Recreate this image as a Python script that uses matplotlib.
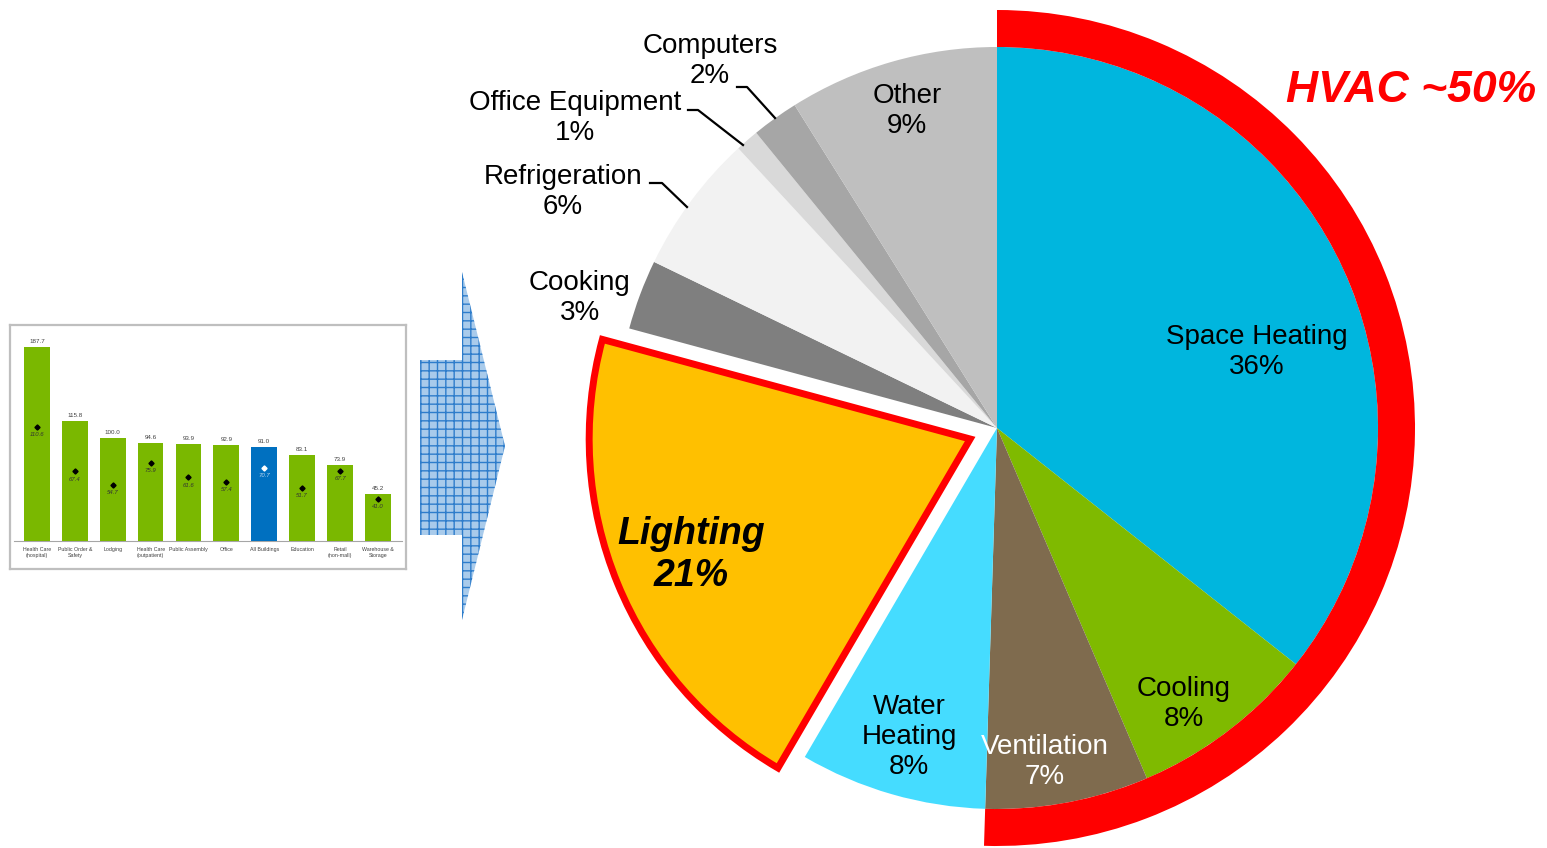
import numpy as np
import matplotlib.pyplot as plt
from matplotlib.patches import Wedge, Polygon

plt.rcParams['font.family'] = ['Liberation Sans', 'DejaVu Sans']

# ---------------- PIE DATA ----------------
end_uses = ["Space Heating", "Cooling", "Ventilation", "Water Heating", "Lighting",
            "Cooking", "Refrigeration", "Office Equipment", "Computers", "Other"]
shares = [36, 8, 7, 8, 21, 3, 6, 1, 2, 9]
pie_colors = ["#00B6DE", "#7FBA00", "#7F6B4E", "#45DCFF", "#FFC000",
              "#7F7F7F", "#F2F2F2", "#D9D9D9", "#A6A6A6", "#BFBFBF"]
hvac_uses = ["Space Heating", "Cooling", "Ventilation"]

# ---------------- INSET BAR DATA ----------------
building_types = ["Health Care\n(hospital)", "Public Order &\nSafety", "Lodging",
                  "Health Care\n(outpatient)", "Public Assembly", "Office",
                  "All Buildings", "Education", "Retail\n(non-mall)", "Warehouse &\nStorage"]
total_eui = [187.7, 115.8, 100.0, 94.6, 93.9, 92.9, 91.0, 83.1, 73.9, 45.2]
site_eui = [110.6, 67.4, 54.7, 75.9, 61.6, 57.4, 70.7, 51.7, 67.7, 41.0]
highlight = "All Buildings"

W, H = 1547, 848
fig = plt.figure(figsize=(W / 100, H / 100), dpi=100)
ax = fig.add_axes([0, 0, 1, 1])

# ---------------- PIE ----------------
cx, cy, R = 997, 428, 381
# explode is in data units here (pie radius is in pixels)
explode = [29 if u == "Lighting" else 0 for u in end_uses]
wedges, _ = ax.pie(shares, colors=pie_colors, startangle=-90, counterclock=True,
                   radius=R, center=(cx, cy), explode=explode,
                   wedgeprops=dict(linewidth=0))
light = wedges[end_uses.index("Lighting")]
light.set_edgecolor("#FF0000")
light.set_linewidth(5)
light.set_joinstyle("miter")
light.set_zorder(3)

# HVAC ring (y axis is inverted, so angles run the other way)
hvac_frac = sum(s for u, s in zip(end_uses, shares) if u in hvac_uses) / sum(shares)
ax.add_patch(Wedge((cx, cy), 418, -90, -90 + 360 * hvac_frac, width=37,
                   facecolor="#FF0000", edgecolor="none", zorder=2))

ax.text(1411, 91, "HVAC ~50%", color="#FF0000", fontsize=32, fontweight="bold",
        style="italic", ha="center", va="center")

# labels
label_pos = {
    "Space Heating": (1257, 352, "black"),
    "Cooling": (1184, 704, "black"),
    "Ventilation": (1045, 762, "white"),
    "Water Heating": (909, 737, "black"),
    "Cooking": (580, 298, "black"),
    "Refrigeration": (563, 192, "black"),
    "Office Equipment": (575, 118, "black"),
    "Computers": (710, 61, "black"),
    "Other": (907, 111, "black"),
}
for u, s in zip(end_uses, shares):
    if u == "Lighting":
        ax.text(691, 555, f"{u}\n{s}%", fontsize=27, fontweight="bold", style="italic",
                ha="center", va="center", linespacing=1.2, zorder=5)
        continue
    x, y, c = label_pos[u]
    name = "Water\nHeating" if u == "Water Heating" else u
    ax.text(x, y, f"{name}\n{s}%", fontsize=20, color=c, ha="center", va="center",
            linespacing=1.22, zorder=5)

# leader lines
leaders = [
    [(737, 87), (747, 87), (775, 118)],
    [(688, 110), (698, 110), (743, 145)],
    [(650, 183), (662, 183), (687, 207)],
]
for pts in leaders:
    xs, ys = zip(*pts)
    ax.plot(xs, ys, color="black", lw=1.6, zorder=5)

# ---------------- ARROW ----------------
arrow = Polygon([(420, 360), (462, 360), (462, 272), (505, 446), (462, 620),
                 (462, 535), (420, 535)], closed=True, facecolor="#A9CBEB",
                edgecolor="#2E7DCB", hatch="++", linewidth=0, zorder=1)
ax.add_patch(arrow)

ax.set_xlim(0, W)
ax.set_ylim(H, 0)
ax.set_aspect("equal")
ax.axis("off")

# ---------------- INSET BAR CHART ----------------
bx = fig.add_axes([10 / W, (H - 569) / H, 396 / W, 244 / H])
idx = np.arange(len(building_types))
bar_cols = ["#0070C0" if b == highlight else "#7AB800" for b in building_types]
bx.bar(idx, total_eui, width=0.68, color=bar_cols, zorder=2)
for i, (b, t, s) in enumerate(zip(building_types, total_eui, site_eui)):
    hl = b == highlight
    bx.text(i, t + 3, f"{t:.1f}", fontsize=4.5, color="#404040", ha="center", va="bottom")
    bx.plot(i, s, marker="D", ms=2.6, color="white" if hl else "black", zorder=3)
    bx.text(i, s - 5, f"{s:.1f}", fontsize=4.3, style="italic",
            color="#BDD7EE" if hl else "#333333", ha="center", va="top", zorder=3)
    bx.text(i, -6, b, fontsize=3.8, color="#404040", ha="center", va="top", linespacing=1.1)
bx.axhline(0, xmin=0.01, xmax=0.99, color="#A6A6A6", lw=0.8, zorder=1)
bx.set_xlim(-0.71, 9.74)
bx.set_ylim(-27, 209)
bx.set_xticks([])
bx.set_yticks([])
for sp in bx.spines.values():
    sp.set_color("#BFBFBF")
    sp.set_linewidth(1.6)

fig.savefig("out.png", dpi=100)
